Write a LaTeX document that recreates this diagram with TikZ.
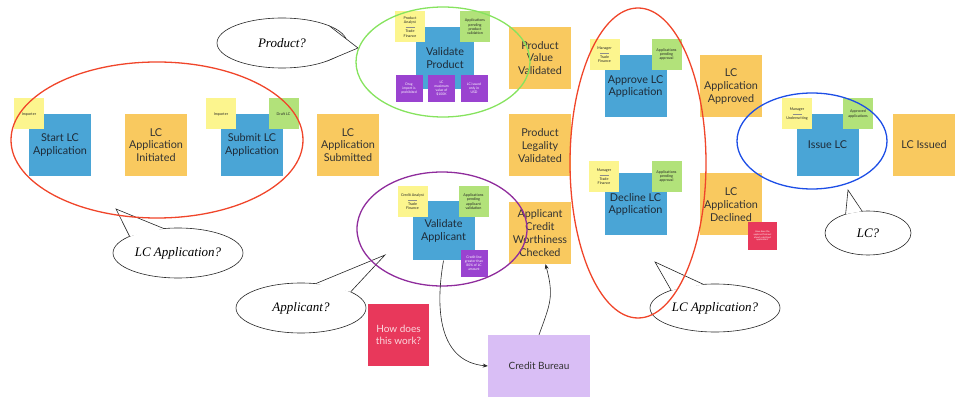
\documentclass[tikz,border=0pt]{standalone}
\usepackage{fontspec}
\setmainfont{Lato}
\newfontfamily\handfont{Liberation Serif}
\usetikzlibrary{arrows.meta,shapes.geometric}

\definecolor{stepblue}{HTML}{4AA5D6}
\definecolor{eventorange}{HTML}{F9C95F}
\definecolor{roleyellow}{HTML}{FCF58E}
\definecolor{viewgreen}{HTML}{B2E27A}
\definecolor{rulepurple}{HTML}{9A43D0}
\definecolor{hotred}{HTML}{E8385B}
\definecolor{systemlilac}{HTML}{D9BEF5}
\definecolor{ringred}{HTML}{F0452A}
\definecolor{ringgreen}{HTML}{86E35E}
\definecolor{ringpurple}{HTML}{8F2C9C}
\definecolor{ringblue}{HTML}{1D4EE6}
\definecolor{inkdark}{HTML}{1E2B38}

\newcommand{\notesep}{{\color{black!45}\rule[0.8pt]{9pt}{0.15pt}}}

\begin{document}
\begin{tikzpicture}[x=1pt, y=1pt,
  command/.style={fill=stepblue, minimum width=62pt, minimum height=62pt, inner sep=1pt, align=center, text=inkdark, font=\fontsize{10.8}{12.8}\selectfont},
  event/.style={command, fill=eventorange, text=black!80},
  actor/.style={fill=roleyellow, minimum width=30pt, minimum height=31pt, inner sep=0.5pt, align=center, text=black!85, font=\fontsize{3.7}{4.4}\selectfont},
  readmodel/.style={actor, fill=viewgreen},
  policy/.style={fill=rulepurple, minimum width=27pt, minimum height=27pt, inner sep=0.5pt, align=center, text=white, font=\fontsize{3.4}{4.1}\selectfont},
  hotspot/.style={fill=hotred, align=center, inner sep=1pt},
  bubble/.style={ellipse, draw=black!85, fill=white, line width=0.6pt, inner sep=0pt, outer sep=0pt, font=\handfont\itshape\fontsize{13}{15}\selectfont},
  tail/.style={draw=black!85, line width=0.6pt, line join=miter},
  ring/.style={line width=1.3pt},
  arrow/.style={-{Stealth[length=5pt, width=4pt]}, line width=0.6pt, black!85}
]
\useasboundingbox (0,0) rectangle (980,402);

% Start and submit the application
\node[command] (startapp) at (60,257) {Start LC\\Application};
\node[actor] (importera) at (29,288) {Importer};
\node[event] (initiated) at (156,257) {LC\\Application\\Initiated};
\node[command] (submitapp) at (252,257) {Submit LC\\Application};
\node[actor] (importerb) at (221,288) {Importer};
\node[readmodel] (draftlc) at (283.5,288) {Draft LC};
\node[event] (submitted) at (348,257) {LC\\Application\\Submitted};

% Validate product
\node[command, minimum width=58pt] (valprod) at (445,344) {Validate\\Product};
\node[actor] (prodactor) at (410,375) {Product\\Analyst\\\notesep\\Trade\\Finance};
\node[readmodel] (prodview) at (475,375) {Applications\\pending\\product\\validation};
\node[policy] (drugrule) at (409,313.5) {Drug\\import is\\prohibited};
\node[policy] (maxrule) at (441.5,313.5) {LC\\maximum\\value of\\\$100K};
\node[policy] (usdrule) at (474,313.5) {LC issued\\only in\\USD};
\node[event] (valuedone) at (540,344) {Product\\Value\\Validated};
\node[event] (legaldone) at (540,256.5) {Product\\Legality\\Validated};

% Validate applicant
\node[command, minimum height=59pt] (valapp) at (443.5,171) {Validate\\Applicant};
\node[actor] (appactor) at (412.5,200.5) {Credit Analyst\\\notesep\\Trade\\Finance};
\node[readmodel] (appview) at (473.5,200.5) {Applications\\pending\\applicant\\validation};
\node[policy] (creditrule) at (474,138.5) {Credit line\\greater than\\80\% of LC\\amount};
\node[event] (creditdone) at (540,169) {Applicant\\Credit\\Worthiness\\Checked};

% Approve or decline
\node[command] (approve) at (635.5,315.5) {Approve LC\\Application};
\node[actor] (appractor) at (604.5,347.5) {Manager\\\notesep\\Trade\\Finance};
\node[readmodel] (apprview) at (666.5,347.5) {Applications\\pending\\approval};
\node[event] (approved) at (731,315.5) {LC\\Application\\Approved};
\node[command] (decline) at (635.5,197.5) {Decline LC\\Application};
\node[actor] (declactor) at (604,225.5) {Manager\\\notesep\\Trade\\Finance};
\node[readmodel] (declview) at (666.5,225.5) {Applications\\pending\\approval};
\node[event] (declined) at (731,197.5) {LC\\Application\\Declined};
\node[hotspot, minimum width=29pt, minimum height=28pt, text=white, font=\fontsize{2.3}{2.8}\selectfont] (declhot) at (762.5,166) {How does the\\applicant find out\\about a declined\\application?};

% Issue the LC
\node[command] (issue) at (827.5,257) {Issue LC};
\node[actor] (issueactor) at (797,288) {Manager\\\notesep\\Underwriting};
\node[readmodel] (issueview) at (858,288) {Approved\\applications};
\node[event] (issued) at (924,257) {LC Issued};

% Open questions and external system
\node[hotspot, minimum width=61pt, minimum height=62pt, text=hotred!20, font=\fontsize{10}{12.5}\selectfont] (howhot) at (398.5,67) {How does\\this work?};
\node[fill=systemlilac, minimum width=102pt, minimum height=62pt, text=black!80, font=\fontsize{10}{12}\selectfont] (bureau) at (539,36) {Credit Bureau};

% Speech bubbles
\node[bubble, minimum width=130pt, minimum height=50pt] (qprod) at (282,359) {Product?};
\coordinate (qprodtip) at (358,354);
\fill[white] (qprod.20) -- (qprodtip) -- (qprod.-22) -- cycle;
\draw[tail] (qprod.20) -- (qprodtip) -- (qprod.-22);

\node[bubble, minimum width=130pt, minimum height=50pt] (qlca) at (178,149) {LC Application?};
\coordinate (qlcatip) at (116,193);
\fill[white] (qlca.161) -- (qlcatip) -- (qlca.120) -- cycle;
\draw[tail] (qlca.161) -- (qlcatip) -- (qlca.120);

\node[bubble, minimum width=130pt, minimum height=50pt] (qapp) at (301,94) {Applicant?};
\coordinate (qapptip) at (385,147);
\fill[white] (qapp.59) -- (qapptip) -- (qapp.18) -- cycle;
\draw[tail] (qapp.59) -- (qapptip) -- (qapp.18);

\node[bubble, minimum width=130pt, minimum height=48pt] (qlcb) at (715,94) {LC Application?};
\coordinate (qlcbtip) at (655,140);
\fill[white] (qlcb.158) -- (qlcbtip) -- (qlcb.116) -- cycle;
\draw[tail] (qlcb.158) -- (qlcbtip) -- (qlcb.116);

\node[bubble, minimum width=86pt, minimum height=44pt] (qlc) at (868,169) {LC?};
\coordinate (qlctip) at (848,212);
\fill[white] (qlc.140) -- (qlctip) -- (qlc.105) -- cycle;
\draw[tail] (qlc.140) -- (qlctip) -- (qlc.105);

% Aggregate rings
\draw[ring, ringred] (157,262) ellipse [x radius=146pt, y radius=78pt];
\draw[ring, ringgreen] (443,340) ellipse [x radius=87pt, y radius=55pt];
\draw[ring, ringpurple] (442,173) ellipse [x radius=85pt, y radius=57pt];
\draw[ring, ringred] (638,239) ellipse [x radius=68pt, y radius=155pt];
\draw[ring, ringblue] (812,261) ellipse [x radius=75pt, y radius=48pt];

% Credit check round trip
\draw[arrow] (valapp.south) to[out=-100, in=175, looseness=1.1] (bureau.west);
\draw[arrow] (bureau.north) to[out=70, in=-75, looseness=1.2] (creditdone.-80);

\end{tikzpicture}
\end{document}
